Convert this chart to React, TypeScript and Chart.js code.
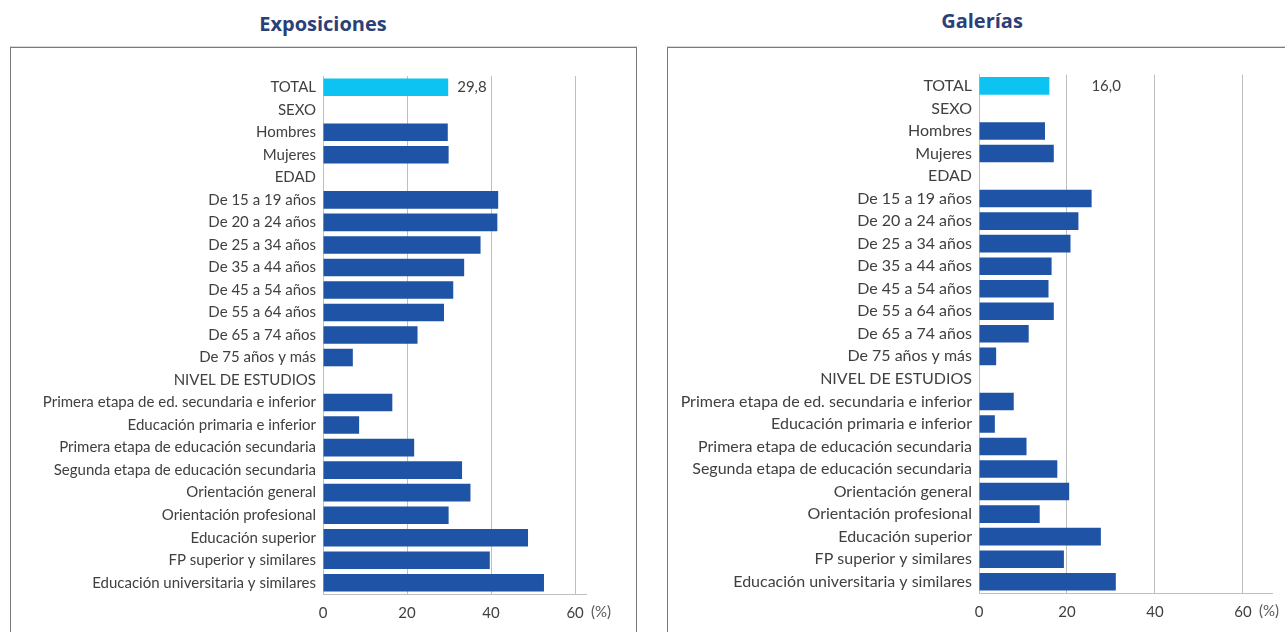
import React, { useEffect, useRef } from "react";
import { Chart, registerables } from "chart.js";

Chart.register(...registerables);

const categories = [
  "TOTAL",
  "SEXO",
  "Hombres",
  "Mujeres",
  "EDAD",
  "De 15 a 19 años",
  "De 20 a 24 años",
  "De 25 a 34 años",
  "De 35 a 44 años",
  "De 45 a 54 años",
  "De 55 a 64 años",
  "De 65 a 74 años",
  "De 75 años y más",
  "NIVEL DE ESTUDIOS",
  "Primera etapa de ed. secundaria e inferior",
  "Educación primaria e inferior",
  "Primera etapa de educación secundaria",
  "Segunda etapa de educación secundaria",
  "Orientación general",
  "Orientación profesional",
  "Educación superior",
  "FP superior y similares",
  "Educación universitaria y similares",
];

const exposiciones = [
  29.8, null, 29.7, 29.9, null, 41.7, 41.5, 37.5, 33.6, 31.0, 28.8, 22.5, 7.1,
  null, 16.5, 8.6, 21.7, 33.1, 35.1, 29.9, 48.8, 39.7, 52.6,
];

const galerias = [
  16.0, null, 15.0, 17.0, null, 25.6, 22.6, 20.8, 16.5, 15.8, 17.0, 11.3, 3.9,
  null, 7.9, 3.6, 10.8, 17.8, 20.5, 13.8, 27.7, 19.3, 31.1,
];

const xTicks = [0, 20, 40, 60];
const unitLabel = "(%)";
const titles = ["Exposiciones", "Galerías"];

const FONT = "Lato, 'Open Sans', sans-serif";
const TEXT = "#404040";
const BLUE = "#1f53a5";
const CYAN = "#0cc3f2";
const GRID = "#bfbfbf";

type PanelProps = {
  values: (number | null)[];
  max: number;
  labelOffset: number;
  labelSize: number;
  yWidth: number;
  padTop: number;
  padRight: number;
  xHeight: number;
  width: number;
  height: number;
  left: number;
  top: number;
};

function BarPanel(p: PanelProps) {
  const ref = useRef<HTMLCanvasElement | null>(null);
  useEffect(() => {
    if (!ref.current) return;
    const overlay = {
      id: "overlay",
      afterDatasetsDraw(chart: any) {
        const ctx = chart.ctx;
        const meta = chart.getDatasetMeta(0);
        const bar = meta.data[0];
        const v = p.values[0];
        ctx.save();
        ctx.font = `15px ${FONT}`;
        ctx.fillStyle = TEXT;
        ctx.textBaseline = "middle";
        ctx.textAlign = "left";
        if (bar && v != null) {
          ctx.fillText(v.toFixed(1).replace(".", ","), bar.x + p.labelOffset, bar.y);
        }
        const xs = chart.scales.x;
        ctx.font = `15px ${FONT}`;
        ctx.fillStyle = "#595959";
        ctx.fillText(unitLabel, xs.getPixelForValue(xTicks[xTicks.length - 1]) + 16, xs.top + 18);
        ctx.restore();
      },
    };
    const chart = new Chart(ref.current, {
      type: "bar",
      data: {
        labels: categories,
        datasets: [
          {
            data: p.values as any,
            backgroundColor: p.values.map((_, i) => (i === 0 ? CYAN : BLUE)),
            barPercentage: 0.78,
            categoryPercentage: 1,
          },
        ],
      },
      options: {
        indexAxis: "y",
        responsive: false,
        animation: false,
        devicePixelRatio: 1,
        layout: { padding: { top: p.padTop, right: p.padRight, left: 0, bottom: 0 } },
        plugins: {
          legend: { display: false },
          tooltip: { enabled: false },
          title: { display: false },
        },
        scales: {
          x: {
            min: 0,
            max: p.max,
            afterBuildTicks(scale: any) {
              scale.ticks = xTicks.map((v) => ({ value: v }));
            },
            afterFit(scale: any) {
              scale.height = p.xHeight;
            },
            grid: {
              color: GRID,
              lineWidth: 1,
              drawTicks: false,
            },
            border: { display: true, color: GRID, width: 1 },
            ticks: {
              padding: 10,
              color: TEXT,
              font: { family: FONT, size: 15 },
              maxRotation: 0,
            },
          },
          y: {
            afterFit(scale: any) {
              scale.width = p.yWidth;
            },
            grid: { display: false, drawTicks: false },
            border: { display: true, color: GRID, width: 1 },
            ticks: {
              padding: 7,
              color: TEXT,
              font: { family: FONT, size: p.labelSize },
              autoSkip: false,
            },
          },
        },
      },
      plugins: [overlay],
    });
    return () => chart.destroy();
  }, []);
  return (
    <canvas
      ref={ref}
      width={p.width}
      height={p.height}
      style={{ position: "absolute", left: p.left, top: p.top, width: p.width, height: p.height }}
    />
  );
}

export default function App() {
  const titleStyle: React.CSSProperties = {
    position: "absolute",
    fontFamily: "'Open Sans', sans-serif",
    fontWeight: 700,
    fontSize: 20,
    color: "#2b3f78",
    transform: "translateX(-50%)",
    whiteSpace: "nowrap",
    letterSpacing: 0,
  };
  const boxStyle: React.CSSProperties = {
    position: "absolute",
    border: "1px solid #7a7a7a",
    boxShadow: "0 -1px 0 #d8d8d8",
    boxSizing: "border-box",
    background: "#fff",
  };
  return (
    <div
      style={{
        position: "absolute",
        left: 0,
        top: 0,
        width: 1285,
        height: 632,
        overflow: "hidden",
        background: "#fff",
      }}
    >
      <div style={{ ...titleStyle, left: 323, top: 10 }}>{titles[0]}</div>
      <div style={{ ...titleStyle, left: 982, top: 7 }}>{titles[1]}</div>
      <div style={{ ...boxStyle, left: 10, top: 47, width: 627, height: 620 }} />
      <div style={{ ...boxStyle, left: 667, top: 47, width: 640, height: 620 }} />
      <BarPanel
        values={exposiciones}
        max={62.6}
        labelOffset={9}
        labelSize={15}
        yWidth={311}
        padTop={15}
        padRight={46}
        xHeight={38}
        width={620}
        height={572}
        left={12}
        top={60}
      />
      <BarPanel
        values={galerias}
        max={66.6}
        labelOffset={42}
        labelSize={16}
        yWidth={310}
        padTop={14}
        padRight={13}
        xHeight={39}
        width={616}
        height={574}
        left={669}
        top={58}
      />
    </div>
  );
}
